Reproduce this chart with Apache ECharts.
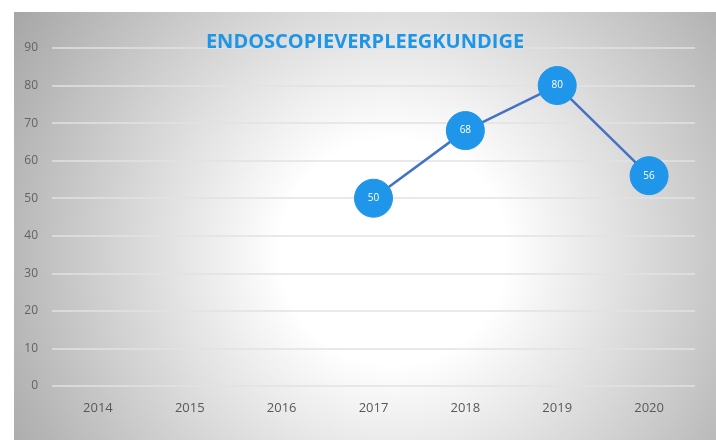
<!DOCTYPE html>
<html><head><meta charset="utf-8">
<script src="https://cdn.jsdelivr.net/npm/echarts@6/dist/echarts.min.js"></script>
<style>html,body{margin:0;padding:0;background:#fff;width:716px;height:440px;overflow:hidden}
#c{position:absolute;left:14px;top:12px;width:702px;height:428px}</style>
</head><body><div id="c"></div>
<script>
const title = 'ENDOSCOPIEVERPLEEGKUNDIGE';
const categories = ['2014','2015','2016','2017','2018','2019','2020'];
const values = [null, null, null, 50, 68, 80, 56];
const yTicks = {min: 0, max: 90, interval: 10};

const chart = echarts.init(document.getElementById('c'), null, {renderer: 'canvas'});
chart.setOption({
  animation: false,
  backgroundColor: {
    type: 'radial', x: 0.54, y: 0.56, r: 1.05,
    colorStops: [
      {offset: 0, color: '#ffffff'},
      {offset: 0.25, color: '#ffffff'},
      {offset: 1, color: '#a6a6a6'}
    ]
  },
  title: {
    text: title, left: 'center', top: 15,
    textStyle: {color: '#1e96e8', fontSize: 20, fontWeight: 'bold', fontFamily: 'Open Sans'}
  },
  grid: {left: 38, right: 21, top: 36, bottom: 54},
  xAxis: {
    type: 'category', data: categories, boundaryGap: true,
    axisLine: {show: false}, axisTick: {show: false},
    axisLabel: {color: '#595959', fontSize: 13, margin: 16, fontFamily: 'Open Sans'}
  },
  yAxis: {
    type: 'value', min: yTicks.min, max: yTicks.max, interval: yTicks.interval,
    axisLine: {show: false}, axisTick: {show: false},
    axisLabel: {color: '#636363', fontSize: 12, margin: 14, fontFamily: 'Open Sans'},
    splitLine: {lineStyle: {color: '#e2e2e2', width: 1.5}}
  },
  series: [{
    type: 'line', data: values, connectNulls: false,
    symbol: 'circle', symbolSize: 38,
    lineStyle: {color: '#4472c4', width: 2.5},
    itemStyle: {color: '#1f96ea', borderColor: '#1f96ea'},
    label: {show: true, position: 'inside', color: '#ffffff', fontSize: 10, fontFamily: 'Open Sans'}
  }]
});
</script></body></html>
